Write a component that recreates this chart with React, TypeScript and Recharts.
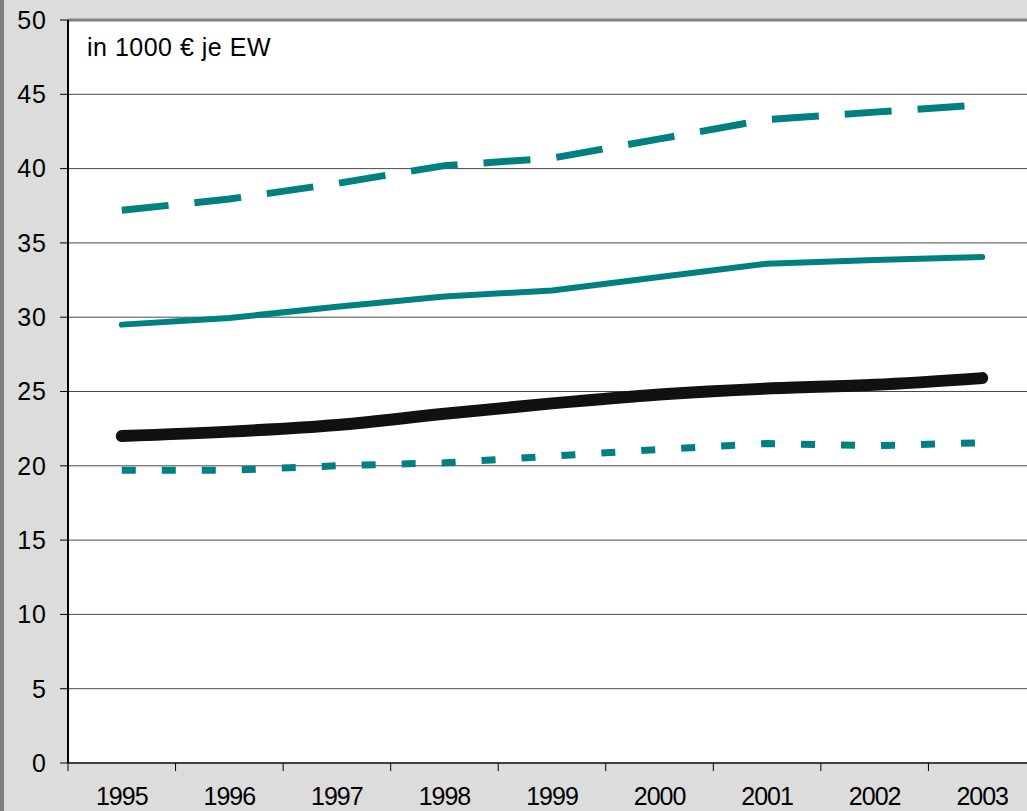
import React from 'react'
import { LineChart, Line, XAxis, YAxis, CartesianGrid, ReferenceLine } from 'recharts'

const YEARS = ['1995', '1996', '1997', '1998', '1999', '2000', '2001', '2002', '2003']
const Y_TICKS = [0, 5, 10, 15, 20, 25, 30, 35, 40, 45, 50]

// four series (in 1000 € per inhabitant)
const upper = [37.2, 37.95, 39.0, 40.2, 40.7, 42.0, 43.3, 43.8, 44.3]
const middle = [29.5, 29.95, 30.7, 31.4, 31.8, 32.7, 33.6, 33.85, 34.05]
const main = [22.0, 22.3, 22.75, 23.5, 24.2, 24.8, 25.2, 25.45, 25.9]
const lower = [19.7, 19.7, 20.0, 20.2, 20.65, 21.1, 21.5, 21.35, 21.55]

const W = 1040
const H = 830
const LEFT = 68
const RIGHT = 4
const PLOT_W = W - LEFT - RIGHT
const BAND = PLOT_W / YEARS.length
const FONT = '"Liberation Sans", Arial, sans-serif'

const data = YEARS.map((year, i) => ({
  pos: i + 0.5,
  year,
  upper: upper[i],
  middle: middle[i],
  main: main[i],
  lower: lower[i],
}))

function YearTick(props: any) {
  const { x, y, payload } = props
  const i = payload.value as number
  return (
    <g>
      <line x1={x} x2={x} y1={y} y2={y + 8} stroke="#000" strokeWidth={1} />
      {i < YEARS.length && (
        <text
          x={x + BAND / 2}
          y={y + 42}
          textAnchor="middle"
          fontFamily={FONT}
          fontSize={25}
          letterSpacing={-1}
          fill="#000"
        >
          {YEARS[i]}
        </text>
      )}
    </g>
  )
}

export default function App() {
  return (
    <div
      style={{
        position: 'fixed',
        left: 0,
        top: 0,
        width: 1027,
        height: 811,
        overflow: 'hidden',
        background: '#dcdcdc',
      }}
    >
      <div style={{ position: 'absolute', left: 0, top: 0, width: 4, height: 811, background: '#808080' }} />
      <div style={{ position: 'absolute', left: 0, top: 0 }}>
        <LineChart width={W} height={H} data={data} margin={{ top: 20, right: RIGHT, left: 0, bottom: 0 }}>
          <CartesianGrid vertical={false} stroke="#4a4a4a" fill="#fff" fillOpacity={1} />
          <ReferenceLine y={50} stroke="#808080" strokeWidth={3} />
          <XAxis
            dataKey="pos"
            type="number"
            domain={[0, YEARS.length]}
            ticks={YEARS.map((_, i) => i).concat([YEARS.length])}
            interval={0}
            tickSize={0}
            tickMargin={0}
            tickLine={false}
            height={67}
            axisLine={{ stroke: '#404040', strokeWidth: 2 }}
            tick={<YearTick />}
          />
          <YAxis
            domain={[0, 50]}
            ticks={Y_TICKS}
            interval={0}
            width={LEFT}
            tickSize={8}
            tickMargin={13}
            axisLine={{ stroke: '#000', strokeWidth: 2 }}
            tickLine={{ stroke: '#000' }}
            tick={{ fill: '#000', fontSize: 25, fontFamily: FONT, letterSpacing: 1 }}
          />
          <Line
            dataKey="upper"
            type="linear"
            stroke="#008080"
            strokeWidth={7}
            strokeDasharray="47 26"
            strokeLinecap="butt"
            dot={false}
            isAnimationActive={false}
          />
          <Line
            dataKey="middle"
            type="linear"
            stroke="#008080"
            strokeWidth={6}
            strokeLinecap="round"
            dot={false}
            isAnimationActive={false}
          />
          <Line
            dataKey="lower"
            type="linear"
            stroke="#008080"
            strokeWidth={7}
            strokeDasharray="14 26"
            strokeLinecap="butt"
            dot={false}
            isAnimationActive={false}
          />
          <Line
            dataKey="main"
            type="monotone"
            stroke="#111"
            strokeWidth={12}
            strokeLinecap="round"
            dot={false}
            isAnimationActive={false}
          />
        </LineChart>
      </div>
      <svg width={400} height={80} style={{ position: 'absolute', left: 0, top: 0 }}>
        <text x={87} y={56} fontFamily={FONT} fontSize={25} letterSpacing={0.5} fill="#000">
          in 1000 € je EW
        </text>
      </svg>
    </div>
  )
}
